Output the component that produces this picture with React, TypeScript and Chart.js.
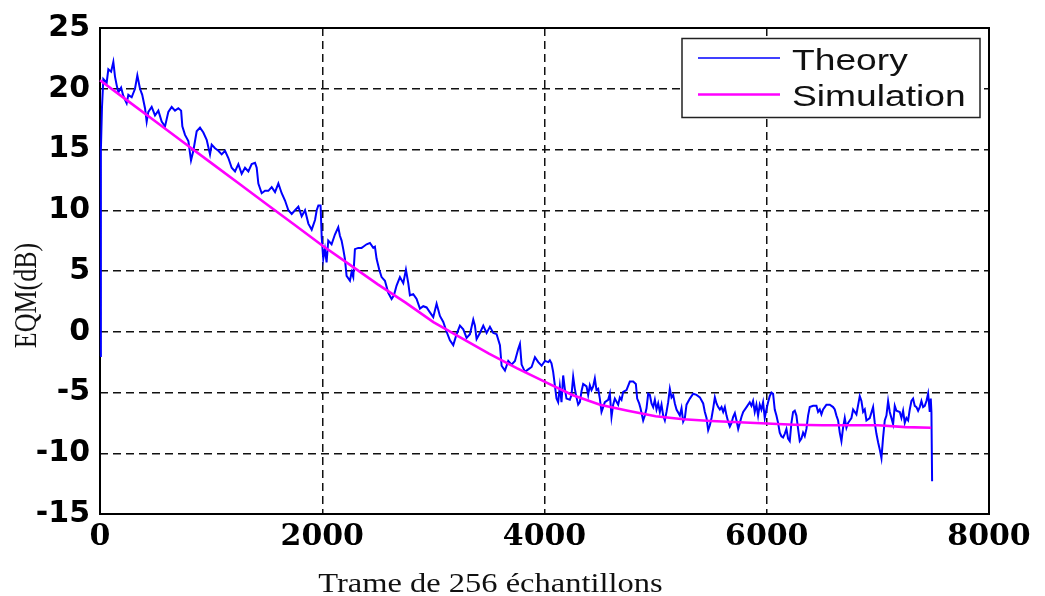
import { useEffect, useRef } from 'react';
import { Chart, registerables } from 'chart.js';

Chart.register(...registerables);

// Sample index (trame) and EQM in dB for the noisy theoretical curve
const theoryX = [
  0, 8, 18, 30, 60, 75, 100, 120, 135, 150, 165, 190, 210, 240, 255, 285, 315, 336, 360, 380,
  405, 420, 435, 465, 495, 525, 555, 585, 615, 645, 675, 705, 730, 741, 765, 795, 819, 840, 870, 900,
  930, 960, 990, 1005, 1035, 1065, 1095, 1125, 1155, 1185, 1215, 1245, 1275, 1305, 1335, 1365, 1395, 1410, 1425, 1455,
  1485, 1515, 1545, 1575, 1605, 1635, 1665, 1695, 1725, 1755, 1785, 1815, 1845, 1875, 1905, 1935, 1950, 1965, 1985, 1995,
  2009, 2024, 2039, 2054, 2084, 2114, 2144, 2159, 2174, 2189, 2204, 2219, 2249, 2264, 2279, 2294, 2324, 2354, 2369, 2399,
  2429, 2459, 2474, 2489, 2513, 2534, 2564, 2594, 2624, 2645, 2669, 2699, 2729, 2753, 2774, 2789, 2819, 2849, 2879, 2909,
  2939, 2969, 2999, 3029, 3059, 3089, 3119, 3149, 3179, 3209, 3239, 3269, 3299, 3329, 3359, 3374, 3389, 3419, 3449, 3479,
  3509, 3539, 3569, 3599, 3614, 3644, 3674, 3704, 3734, 3764, 3779, 3794, 3824, 3854, 3884, 3914, 3944, 3974, 4004, 4034,
  4048, 4063, 4078, 4093, 4108, 4123, 4138, 4153, 4168, 4183, 4198, 4228, 4243, 4258, 4273, 4288, 4303, 4318, 4333, 4348,
  4378, 4393, 4408, 4423, 4438, 4453, 4468, 4483, 4498, 4513, 4528, 4543, 4573, 4588, 4603, 4618, 4633, 4663, 4678, 4693,
  4708, 4738, 4768, 4798, 4822, 4834, 4852, 4864, 4888, 4903, 4918, 4933, 4948, 4963, 4978, 4993, 5008, 5023, 5038, 5053,
  5068, 5083, 5098, 5113, 5128, 5143, 5158, 5173, 5188, 5218, 5233, 5248, 5263, 5278, 5308, 5338, 5368, 5398, 5428, 5443,
  5458, 5473, 5488, 5503, 5518, 5533, 5548, 5563, 5578, 5593, 5608, 5623, 5638, 5653, 5668, 5683, 5698, 5713, 5728, 5743,
  5758, 5773, 5788, 5818, 5847, 5862, 5877, 5892, 5907, 5922, 5937, 5952, 5967, 5982, 5997, 6012, 6027, 6042, 6057, 6072,
  6087, 6102, 6117, 6132, 6147, 6162, 6177, 6192, 6207, 6222, 6237, 6252, 6267, 6282, 6297, 6312, 6327, 6342, 6357, 6372,
  6387, 6417, 6447, 6462, 6477, 6492, 6507, 6522, 6537, 6567, 6597, 6612, 6627, 6642, 6657, 6672, 6687, 6702, 6717, 6732,
  6747, 6762, 6777, 6807, 6837, 6852, 6867, 6882, 6897, 6927, 6957, 6972, 6987, 7002, 7017, 7032, 7047, 7062, 7077, 7092,
  7107, 7137, 7152, 7167, 7197, 7212, 7227, 7242, 7257, 7272, 7287, 7302, 7317, 7332, 7347, 7362, 7377, 7392, 7407, 7422,
  7437, 7452, 7467, 7476, 7482, 7488,
];

const theoryY = [
  -2.0, 15.0, 18.5, 20.8, 20.5, 21.6, 21.4, 22.2, 21.0, 20.3, 19.7, 20.1, 19.4, 18.8, 19.5, 19.3, 20.0, 21.1, 20.0, 19.5,
  18.4, 17.3, 18.1, 18.5, 17.8, 18.2, 17.3, 16.9, 18.1, 18.5, 18.2, 18.4, 18.2, 16.9, 16.2, 15.7, 14.1, 14.9, 16.5, 16.8,
  16.4, 15.8, 14.6, 15.4, 15.1, 14.9, 14.6, 14.9, 14.3, 13.5, 13.2, 13.8, 13.0, 13.5, 13.2, 13.8, 13.9, 13.5, 12.2, 11.4,
  11.6, 11.6, 11.9, 11.5, 12.2, 11.4, 10.8, 10.0, 9.7, 10.0, 10.3, 9.5, 10.0, 8.9, 8.4, 9.2, 10.0, 10.4, 10.4, 7.8,
  6.0, 6.8, 5.7, 7.5, 7.2, 8.0, 8.6, 7.9, 7.5, 6.8, 6.0, 4.6, 4.2, 4.9, 4.5, 6.8, 6.9, 6.9, 7.0, 7.2,
  7.3, 6.9, 7.0, 6.0, 5.1, 4.5, 4.2, 3.2, 2.7, 3.0, 3.8, 4.5, 4.0, 5.1, 4.0, 3.0, 3.1, 2.7, 1.9, 2.1,
  2.0, 1.6, 1.2, 2.3, 1.3, 0.8, 0.0, -0.7, -1.1, -0.2, 0.5, 0.2, -0.5, -0.2, 1.0, 0.5, -0.6, -0.1, 0.5, -0.1,
  0.4, -0.1, -0.2, -1.1, -2.8, -3.2, -2.4, -2.7, -2.4, -1.4, -1.0, -2.7, -3.3, -3.1, -2.9, -2.1, -2.5, -2.8, -2.4, -2.5,
  -2.35, -2.6, -3.3, -4.4, -5.5, -5.8, -4.5, -5.8, -3.6, -4.7, -5.5, -5.6, -5.2, -3.7, -4.7, -5.4, -6.0, -5.8, -4.9, -4.3,
  -4.5, -5.2, -4.4, -4.8, -4.5, -3.85, -4.8, -4.7, -5.5, -6.6, -6.2, -5.8, -5.6, -5.1, -7.0, -6.0, -5.5, -6.0, -5.4, -5.6,
  -4.95, -4.8, -4.1, -4.1, -4.3, -5.5, -5.9, -6.3, -7.3, -6.9, -6.3, -5.1, -5.2, -5.9, -6.2, -5.6, -6.4, -5.9, -6.6, -6.0,
  -6.9, -7.3, -6.6, -5.8, -4.7, -5.4, -5.2, -5.9, -6.4, -6.9, -6.3, -7.4, -7.1, -6.0, -5.5, -5.1, -5.2, -5.4, -5.9, -6.6,
  -7.1, -8.1, -7.7, -7.1, -6.3, -5.4, -5.9, -6.2, -6.4, -6.2, -6.6, -6.2, -6.9, -7.4, -7.8, -7.5, -7.0, -6.7, -7.3, -8.0,
  -7.5, -7.0, -6.6, -6.2, -5.8, -6.1, -5.7, -6.6, -6.0, -6.9, -6.0, -6.4, -5.8, -7.1, -6.4, -5.8, -5.3, -5.0, -5.1, -6.4,
  -6.9, -7.5, -8.3, -8.6, -8.7, -8.4, -8.0, -8.8, -9.0, -7.5, -6.6, -6.5, -6.9, -8.0, -9.0, -8.8, -8.3, -8.6, -8.0, -6.9,
  -6.2, -6.1, -6.1, -6.6, -6.4, -6.8, -6.4, -6.2, -6.0, -6.0, -6.2, -6.4, -6.9, -7.3, -8.3, -9.0, -7.9, -7.1, -7.9, -7.5,
  -7.3, -7.1, -6.4, -6.8, -5.3, -5.7, -6.6, -6.4, -7.3, -7.1, -6.2, -7.5, -8.4, -9.1, -9.7, -10.4, -8.7, -7.3, -6.9, -5.7,
  -6.6, -7.6, -6.1, -6.5, -6.6, -7.1, -6.5, -7.5, -7.1, -7.3, -6.4, -5.7, -5.5, -6.1, -6.2, -6.5, -6.2, -5.7, -6.2, -6.1,
  -5.7, -5.1, -6.6, -5.5, -6.6, -12.3,
];

// Smooth simulated curve
const simX = [
  0, 250, 500, 750, 1000, 1250, 1500, 1750, 2000, 2250, 2500, 2750, 3000, 3250, 3500, 3750,
  4000, 4250, 4500, 4750, 5000, 5250, 5500, 5750, 6000, 6250, 6500, 6750, 7000, 7250, 7480,
];
const simY = [
  20.7, 19.0, 17.3, 15.6, 13.9, 12.2, 10.5, 8.8, 7.1, 5.5, 3.9, 2.4, 0.8, -0.5, -1.8, -3.0,
  -4.1, -5.2, -6.0, -6.5, -6.95, -7.2, -7.35, -7.45, -7.55, -7.65, -7.7, -7.7, -7.7, -7.85, -7.9,
];

const xTicks = [0, 2000, 4000, 6000, 8000];
const yTicks = [-15, -10, -5, 0, 5, 10, 15, 20, 25];
const seriesNames = ['Theory', 'Simulation'];
const seriesColors = ['#0000ff', '#ff00ff'];
const seriesWidths = [2, 2.6];
const xTitle = 'Trame de 256 échantillons';
const yTitle = 'EQM(dB)';

// Closed frame, axis titles and boxed legend in the upper right corner
const decorPlugin = {
  id: 'decor',
  beforeDatasetsDraw(chart: any) {
    const { ctx, chartArea: a } = chart;
    ctx.save();
    ctx.strokeStyle = '#000';
    ctx.lineWidth = 2;
    ctx.strokeRect(a.left, a.top, a.right - a.left, a.bottom - a.top);
    ctx.restore();
  },
  afterDraw(chart: any) {
    const { ctx, chartArea: a } = chart;

    // x axis title
    ctx.save();
    ctx.fillStyle = '#111';
    ctx.font = '28px "Liberation Serif", "Times New Roman", serif';
    ctx.textAlign = 'center';
    ctx.textBaseline = 'alphabetic';
    ctx.translate(a.left + 390.5, 591.5);
    ctx.scale(1.16, 1);
    ctx.fillText(xTitle, 0, 0);
    ctx.restore();

    // y axis title
    ctx.save();
    ctx.fillStyle = '#111';
    ctx.font = '26px "Liberation Serif", "Times New Roman", serif';
    ctx.textAlign = 'center';
    ctx.textBaseline = 'alphabetic';
    ctx.translate(36, a.top + 267.5);
    ctx.rotate(-Math.PI / 2);
    ctx.scale(1, 1.25);
    ctx.fillText(yTitle, 0, 0);
    ctx.restore();

    // legend
    const bw = 298;
    const bh = 79;
    const bx = a.right - 9 - bw;
    const by = a.top + 10.5;
    ctx.save();
    ctx.fillStyle = '#fff';
    ctx.fillRect(bx, by, bw, bh);
    ctx.strokeStyle = '#222';
    ctx.lineWidth = 1.5;
    ctx.strokeRect(bx, by, bw, bh);
    const ds = chart.data.datasets;
    const rowY = [by + 19.5, by + 56];
    ds.forEach((d: any, i: number) => {
      ctx.strokeStyle = d.borderColor;
      ctx.lineWidth = i === 0 ? 1.5 : d.borderWidth;
      ctx.beginPath();
      ctx.moveTo(bx + 16, rowY[i]);
      ctx.lineTo(bx + 98, rowY[i]);
      ctx.stroke();
      ctx.save();
      ctx.fillStyle = '#111';
      ctx.font = '30px "Liberation Sans", Arial, sans-serif';
      ctx.textAlign = 'left';
      ctx.textBaseline = 'alphabetic';
      ctx.translate(bx + 110, rowY[i] + 11.5);
      ctx.scale(1.24, 1);
      ctx.fillText(d.label, 0, 0);
      ctx.restore();
    });
    ctx.restore();
  },
};

export default function App() {
  const canvasRef = useRef<HTMLCanvasElement | null>(null);

  useEffect(() => {
    if (!canvasRef.current) return;
    const theory = theoryX.map((x, i) => ({ x, y: theoryY[i] }));
    const sim = simX.map((x, i) => ({ x, y: simY[i] }));

    const chart = new Chart(canvasRef.current, {
      type: 'line',
      data: {
        datasets: [
          {
            label: seriesNames[0],
            data: theory,
            borderColor: seriesColors[0],
            borderWidth: seriesWidths[0],
            pointRadius: 0,
            tension: 0,
            fill: false,
            order: 1,
            clip: 6,
          },
          {
            label: seriesNames[1],
            data: sim,
            borderColor: seriesColors[1],
            borderWidth: seriesWidths[1],
            pointRadius: 0,
            tension: 0,
            fill: false,
            order: 0,
            clip: 6,
          },
        ],
      },
      options: {
        animation: false,
        responsive: true,
        maintainAspectRatio: false,
        layout: { padding: { top: 23, right: 56, bottom: 0, left: 0 } },
        plugins: {
          legend: { display: false },
          tooltip: { enabled: false },
        },
        scales: {
          x: {
            type: 'linear',
            min: xTicks[0],
            max: xTicks[xTicks.length - 1],
            afterFit: (s: any) => {
              s.height = 82;
            },
            afterBuildTicks: (s: any) => {
              s.ticks = xTicks.map((v) => ({ value: v }));
            },
            ticks: {
              autoSkip: false,
              maxRotation: 0,
              padding: 5,
              color: '#000',
              font: { family: '"DejaVu Serif", serif', weight: 'bold', size: 30 },
              callback: (v: any) => String(v),
            },
            grid: { color: '#111', lineWidth: 1.5, drawTicks: false },
            border: { display: false, dash: [8, 5] },
          },
          y: {
            type: 'linear',
            min: yTicks[0],
            max: yTicks[yTicks.length - 1],
            afterFit: (s: any) => {
              s.width = 100;
            },
            afterBuildTicks: (s: any) => {
              s.ticks = yTicks.map((v) => ({ value: v }));
            },
            ticks: {
              autoSkip: false,
              padding: 10,
              color: '#000',
              font: { family: '"DejaVu Sans", sans-serif', weight: 'bold', size: 30 },
              callback: (v: any) => String(v),
            },
            grid: { color: '#111', lineWidth: 1.5, drawTicks: false },
            border: { display: false, dash: [8, 5] },
          },
        },
      },
      plugins: [decorPlugin],
    });

    return () => chart.destroy();
  }, []);

  return (
    <div
      style={{
        position: 'fixed',
        left: 0,
        top: 0,
        width: 1045,
        height: 596,
        background: '#fff',
      }}
    >
      <canvas ref={canvasRef} />
    </div>
  );
}
